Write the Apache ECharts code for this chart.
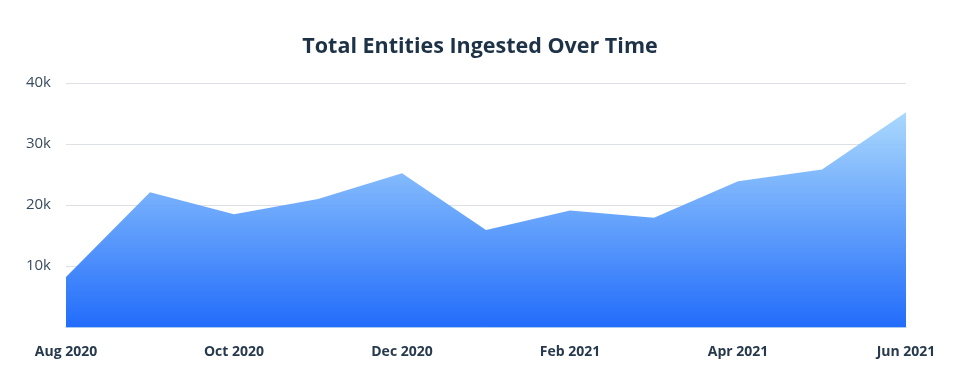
<!DOCTYPE html>
<html><head><meta charset="utf-8">
<script src="https://cdn.jsdelivr.net/npm/echarts@6/dist/echarts.min.js"></script>
<style>html,body{margin:0;padding:0;background:#fff}#c{width:960px;height:384px}</style>
</head><body><div id="c"></div>
<script>
const categories = ['Aug 2020','Sep 2020','Oct 2020','Nov 2020','Dec 2020','Jan 2021','Feb 2021','Mar 2021','Apr 2021','May 2021','Jun 2021'];
const entities = [8200, 22100, 18500, 21000, 25200, 15900, 19100, 17900, 23900, 25800, 35200];
const yTicks = [0, 10000, 20000, 30000, 40000];

const chart = echarts.init(document.getElementById('c'));
chart.setOption({
  animation: false,
  title: {
    text: 'Total Entities Ingested Over Time',
    left: 'center', top: 31,
    textStyle: { fontFamily: 'Open Sans', fontWeight: 'bold', fontSize: 21.5, color: '#1d3246' }
  },
  grid: { left: 66, right: 54, top: 83, bottom: 57 },
  xAxis: {
    type: 'category', data: categories, boundaryGap: false,
    axisLine: { show: true, lineStyle: { color: '#a9c9f3', width: 1 } },
    axisTick: { show: false },
    axisLabel: { interval: 1, margin: 18, fontFamily: 'Open Sans', fontWeight: 'bold', fontSize: 14, color: '#27394d' }
  },
  yAxis: {
    type: 'value', min: yTicks[0], max: yTicks[yTicks.length-1], interval: 10000,
    splitLine: { lineStyle: { color: '#dde1e6', width: 1 } },
    axisLine: { show: false }, axisTick: { show: false },
    axisLabel: {
      margin: 15, fontFamily: 'Open Sans', fontSize: 15, color: '#3a4b5e',
      formatter: v => v === 0 ? '' : (v/1000) + 'k'
    }
  },
  series: [{
    type: 'line', data: entities, symbol: 'none',
    lineStyle: { width: 0 },
    areaStyle: {
      opacity: 0.92,
      color: new echarts.graphic.LinearGradient(0, 0, 0, 1, [
        { offset: 0, color: '#a3d6fd' },
        { offset: 1, color: '#0f60fb' }
      ])
    }
  }]
});
</script></body></html>
